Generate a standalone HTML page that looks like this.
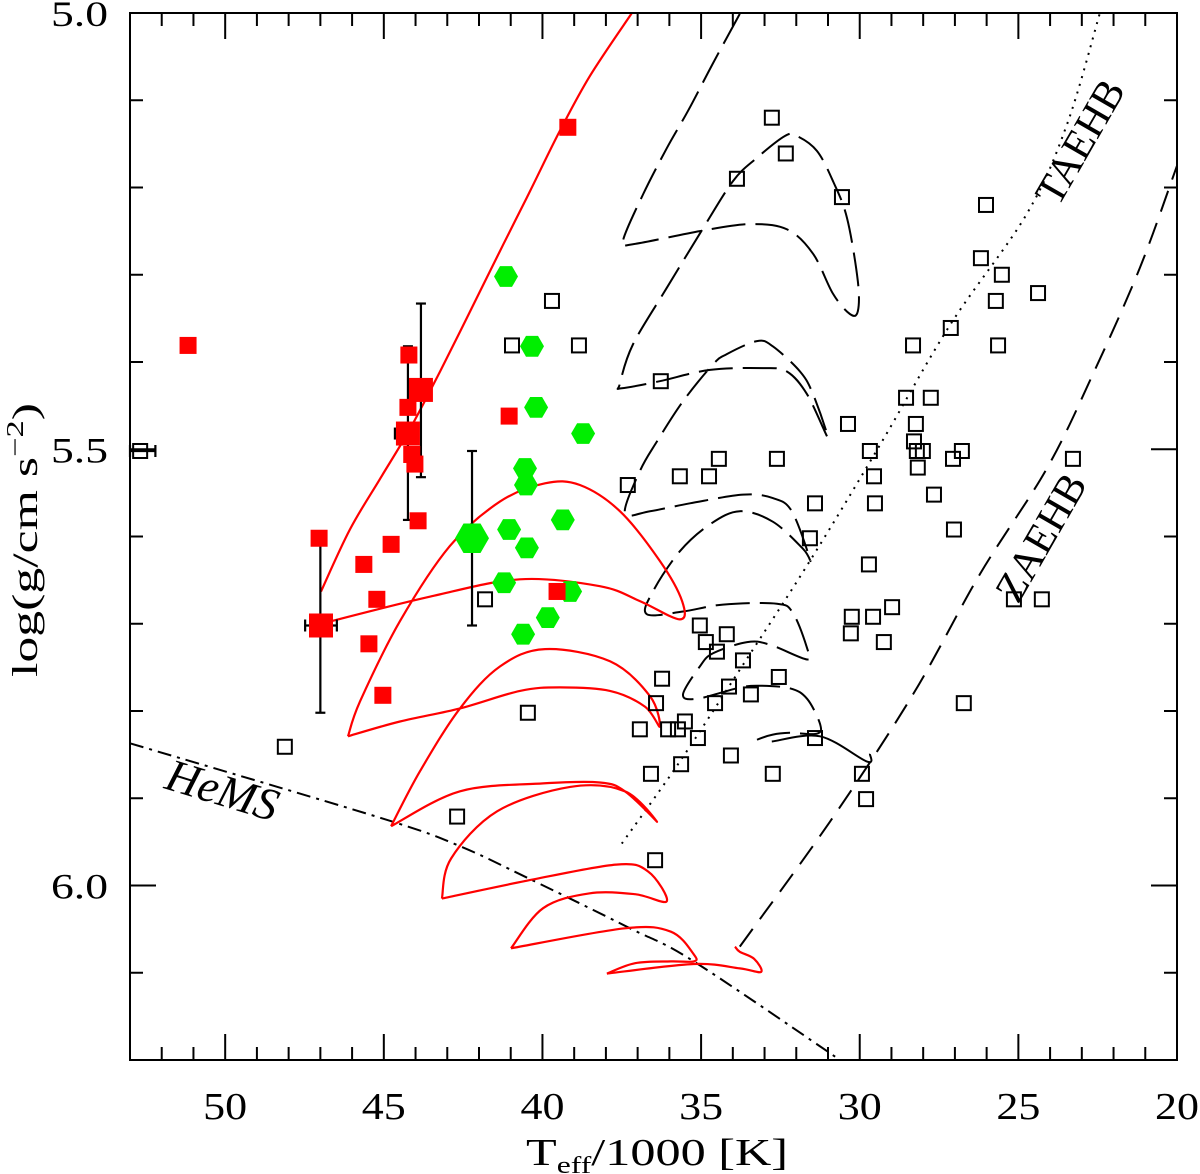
<!DOCTYPE html>
<html><head><meta charset="utf-8"><title>log g vs Teff diagram</title>
<style>
html,body{margin:0;padding:0;background:#fff;}
svg{display:block;}
text{font-family:"Liberation Serif",serif;fill:#000;}
</style></head>
<body>
<svg id="chart" width="1200" height="1174" viewBox="0 0 1200 1174" xmlns="http://www.w3.org/2000/svg">
<g id="tracks"></g>
<g id="marks"></g>
<g id="axes"></g>
</svg>
<script>
// ---- data (Teff/1000 [K], log g) ----
const xTickLabels = ["50","45","40","35","30","25","20"];
const xTickValues = [50,45,40,35,30,25,20];
const yTickLabels = ["5.0","5.5","6.0"];
const yTickValues = [5.0,5.5,6.0];

const openT = [32.77,32.33,33.87,30.56,26.02,26.18,25.52,24.38,25.71,39.70,27.13,40.96,38.85,28.32,25.64,36.27,28.54,27.76,30.37,28.23,28.29,29.68,28.20,28.01,26.78,23.28,34.44,32.61,27.06,28.17,35.67,34.75,29.55,37.31,27.66,31.41,29.52,27.03,31.57,29.71,41.81,30.25,29.58,28.98,25.14,24.26,35.04,30.28,34.85,34.19,29.24,34.50,33.68,36.23,32.55,34.12,33.43,34.56,36.42,26.72,40.46,35.51,36.93,36.04,35.73,35.10,31.41,48.12,34.06,35.63,36.58,32.74,29.93,29.80,42.69,36.45,52.68];
const openG = [5.120,5.161,5.190,5.211,5.220,5.281,5.300,5.321,5.330,5.330,5.361,5.381,5.381,5.381,5.381,5.422,5.441,5.441,5.471,5.471,5.491,5.502,5.502,5.502,5.502,5.511,5.511,5.511,5.511,5.521,5.531,5.531,5.531,5.541,5.552,5.562,5.562,5.592,5.602,5.632,5.672,5.692,5.692,5.681,5.672,5.672,5.702,5.711,5.721,5.712,5.721,5.732,5.742,5.763,5.761,5.772,5.781,5.791,5.791,5.791,5.802,5.812,5.821,5.821,5.821,5.831,5.831,5.841,5.851,5.861,5.872,5.872,5.872,5.901,5.921,5.971,5.502];

const redT = [39.20,51.17,44.21,43.83,44.24,41.05,44.24,44.02,44.12,43.92,47.04,44.77,45.63,45.22,39.54,46.98,45.47,45.03];
const redG = [5.131,5.381,5.392,5.432,5.452,5.462,5.482,5.517,5.506,5.582,5.602,5.609,5.632,5.672,5.663,5.702,5.723,5.782];
const redBig = [0,0,0,1,0,0,1,0,0,0,0,0,0,0,0,1,0,0];

const greenT = [41.15,40.33,40.20,38.72,40.55,40.52,39.36,41.05,42.22,40.49,41.21,39.13,39.83,40.61];
const greenG = [5.302,5.382,5.452,5.482,5.522,5.541,5.581,5.592,5.602,5.613,5.653,5.663,5.693,5.712];
const greenBig = [0,0,0,0,0,0,0,0,1,0,0,0,0,0];

const ebT = [43.83,44.24,42.22,47.0];
const ebLo = [5.333,5.382,5.502,5.602];
const ebHi = [5.532,5.581,5.702,5.802];
const hbG = [5.482,5.702,5.502];
const hbT1 = [44.65,47.48,53.0];
const hbT2 = [44.0,46.48,52.2];

const redDiagT = [46.98,46.07,45.12,44.18,43.23,42.28,41.34,40.39,39.45,38.50,37.18];
const redDiagG = [5.663,5.592,5.534,5.477,5.411,5.342,5.273,5.204,5.135,5.072,5.0];

// red loop segments (each smoothed separately)
const redSeg1T = [46.98,43.55,40.71,38.19,36.93,35.67, 35.60,36.30,37.56,38.82,39.92,41.34,42.92,44.49,45.75,46.13];
const redSeg1G = [5.700,5.669,5.649,5.657,5.674,5.695, 5.674,5.628,5.571,5.541,5.539,5.560,5.611,5.697,5.789,5.829];
const redSeg2T = [46.13,44.49,42.60,40.71,39.45,37.87,36.77,36.30, 36.61,37.87,39.92,41.34,42.60,43.86,44.77];
const redSeg2G = [5.829,5.812,5.797,5.777,5.773,5.777,5.795,5.818, 5.783,5.743,5.729,5.749,5.797,5.869,5.932];
const redSeg3T = [44.77,42.60,39.98,38.19,37.40,36.39, 37.40,39.13,41.43,42.88,43.17];
const redSeg3G = [5.932,5.892,5.883,5.882,5.892,5.927, 5.892,5.887,5.915,5.969,6.015];
const redSeg4T = [43.17,40.55,37.68,36.67,36.08, 37.08,38.53,39.98,40.99];
const redSeg4G = [6.015,5.995,5.976,5.984,6.018, 6.010,6.009,6.026,6.072];
const redSeg5T = [40.99,37.40,35.95,35.23,35.23, 35.95,37.08,37.97];
const redSeg5G = [6.072,6.049,6.053,6.079,6.087, 6.087,6.089,6.101];
const redSeg6T = [37.97,35.23,33.78,33.11,33.33,33.78,33.93];
const redSeg6G = [6.101,6.090,6.095,6.099,6.084,6.076,6.070];

const dashT = [33.78,34.63,35.41,36.08,36.83,37.46, 37.15,35.04,33.46,32.29,31.47,30.84,30.31, 30.06,30.06,30.40,30.84,31.35,31.98,32.36,33.24,34.00,35.04,36.08,37.15,37.56,
 37.50,36.30,34.72,33.05,32.29,31.66,31.00, 31.47,31.88,32.74,33.24,34.19,34.63,35.57,36.39,36.93,37.40,
 36.61,35.35,33.68,32.74,32.14,31.57, 31.79,32.74,33.78,34.72,35.67,36.52,36.71,
 35.57,34.31,32.61,32.10,31.66, 31.66,32.83,33.55,34.63,35.04,35.57,
 35.13,33.87,33.24,32.20,31.66,31.25, 31.35,32.20,32.74,33.24,33.46];
const dashG = [5.001,5.058,5.112,5.155,5.208,5.261, 5.265,5.250,5.242,5.248,5.276,5.322,5.345, 5.342,5.307,5.235,5.193,5.158,5.141,5.141,5.166,5.193,5.253,5.315,5.380,5.425,
 5.430,5.422,5.409,5.407,5.411,5.437,5.487, 5.437,5.411,5.382,5.376,5.391,5.403,5.445,5.491,5.525,5.573,
 5.571,5.562,5.552,5.556,5.571,5.626, 5.614,5.583,5.571,5.586,5.617,5.663,5.689,
 5.686,5.678,5.677,5.688,5.728, 5.741,5.724,5.721,5.734,5.749,5.781,
 5.786,5.774,5.771,5.774,5.786,5.815, 5.826,5.825,5.827,5.833,5.838];
const solidEndT = [32.77,31.25,29.77,29.68];
const solidEndG = [5.835,5.829,5.858,5.849];

const taehbT = [37.50,35.67,33.68,31.57,29.36,27.16,24.73,23.47,22.43];
const taehbG = [5.952,5.858,5.747,5.628,5.495,5.358,5.230,5.128,5.0];
const zaehbT = [33.78,30.94,28.32,26.21,24.10,22.65,21.17,20.0];
const zaehbG = [6.070,5.927,5.781,5.643,5.522,5.414,5.292,5.175];
const hemsT = [53.0,45.06,42.60,40.43,37.24,35.23,30.62];
const hemsG = [5.837,5.923,5.955,5.992,6.049,6.087,6.2];

// ---- scales ----
const X0=130, X1=1177, Y0=13, Y1=1060;
const TMAX=53, TMIN=20, GMIN=5.0, GMAX=6.2;
const xS = t => X0 + (TMAX - t) * (X1 - X0) / (TMAX - TMIN);
const yS = g => Y0 + (g - GMIN) * (Y1 - Y0) / (GMAX - GMIN);
const NS = "http://www.w3.org/2000/svg";
function mk(tag, attrs, parent){
  const e = document.createElementNS(NS, tag);
  for (const k in attrs) e.setAttribute(k, attrs[k]);
  parent.appendChild(e); return e;
}
function ptsOf(T, G){ return T.map((t,i)=>xS(t).toFixed(1)+","+yS(G[i]).toFixed(1)).join(" "); }
function smooth(T, G){
  const P = T.map((t,i)=>[xS(t), yS(G[i])]);
  let d = "M"+P[0][0].toFixed(1)+","+P[0][1].toFixed(1);
  for (let i=0;i<P.length-1;i++){
    const p0=P[Math.max(0,i-1)], p1=P[i], p2=P[i+1], p3=P[Math.min(P.length-1,i+2)];
    const c1=[p1[0]+(p2[0]-p0[0])/6, p1[1]+(p2[1]-p0[1])/6];
    const c2=[p2[0]-(p3[0]-p1[0])/6, p2[1]-(p3[1]-p1[1])/6];
    d += " C"+c1[0].toFixed(1)+","+c1[1].toFixed(1)+" "+c2[0].toFixed(1)+","+c2[1].toFixed(1)+" "+p2[0].toFixed(1)+","+p2[1].toFixed(1);
  }
  return d;
}

const tracks = document.getElementById("tracks");
const marks = document.getElementById("marks");
const axes = document.getElementById("axes");

let e;
e = mk("path",{d:smooth(hemsT,hemsG),fill:"none",stroke:"#000","stroke-width":2,"stroke-dasharray":"14,6,3,6"},tracks);


e = mk("path",{d:smooth(taehbT,taehbG),fill:"none",stroke:"#000","stroke-width":2,"stroke-dasharray":"2,6"},tracks);


e = mk("path",{d:smooth(zaehbT,zaehbG),fill:"none",stroke:"#000","stroke-width":2,"stroke-dasharray":"22,12"},tracks);


e = mk("path",{d:smooth(dashT,dashG),fill:"none",stroke:"#000","stroke-width":2,"stroke-dasharray":"34,10","stroke-linejoin":"round"},tracks);


e = mk("path",{d:smooth(solidEndT,solidEndG),fill:"none",stroke:"#000","stroke-width":2},tracks);


e = mk("path",{d:smooth(redDiagT,redDiagG),fill:"none",stroke:"#f00","stroke-width":2.2},tracks);


const redSegsT=[redSeg1T,redSeg2T,redSeg3T,redSeg4T,redSeg5T,redSeg6T];
const redSegsG=[redSeg1G,redSeg2G,redSeg3G,redSeg4G,redSeg5G,redSeg6G];
for (let i=0;i<redSegsT.length;i++){
  e = mk("path",{d:smooth(redSegsT[i],redSegsG[i]),fill:"none",stroke:"#f00","stroke-width":2.2,"stroke-linejoin":"round"},tracks);
  
  
}

for (let i=0;i<ebT.length;i++){
  const x=xS(ebT[i]), ya=yS(ebLo[i]), yb=yS(ebHi[i]);
  const g=mk("g",{stroke:"#000","stroke-width":2.2},marks);
  
  
  mk("line",{x1:x,y1:ya,x2:x,y2:yb},g);
  mk("line",{x1:x-5,y1:ya,x2:x+5,y2:ya},g);
  mk("line",{x1:x-5,y1:yb,x2:x+5,y2:yb},g);
}
for (let i=0;i<hbG.length;i++){
  const y=yS(hbG[i]), xa=xS(hbT1[i]), xb=xS(hbT2[i]);
  const g=mk("g",{stroke:"#000","stroke-width":2.2},marks);
  
  
  mk("line",{x1:xa,y1:y,x2:xb,y2:y},g);
  mk("line",{x1:xa,y1:y-6,x2:xa,y2:y+6},g);
  mk("line",{x1:xb,y1:y-6,x2:xb,y2:y+6},g);
}

for (let i=0;i<openT.length;i++){
  const x=xS(openT[i]), y=yS(openG[i]);
  e = mk("rect",{x:x-7,y:y-7,width:14,height:14,fill:"none",stroke:"#000","stroke-width":2},marks);
  
  
}
for (let i=0;i<greenT.length;i++){
  const x=xS(greenT[i]), y=yS(greenG[i]), r=greenBig[i]?17:12;
  const p=[];
  for (let k=0;k<6;k++){ const a=Math.PI/3*k; p.push((x+r*Math.cos(a)).toFixed(1)+","+(y+r*Math.sin(a)).toFixed(1)); }
  e = mk("polygon",{points:p.join(" "),fill:"#00ee00"},marks);
  
  
}
for (let i=0;i<redT.length;i++){
  const x=xS(redT[i]), y=yS(redG[i]), s=redBig[i]?24:17;
  e = mk("rect",{x:x-s/2,y:y-s/2,width:s,height:s,fill:"#f00"},marks);
  
  
}

e = mk("rect",{x:X0,y:Y0,width:X1-X0,height:Y1-Y0,fill:"none",stroke:"#000","stroke-width":2},axes);


for (let t=20;t<=53;t++){
  const x=xS(t), L=(t%5===0)?26:13;
  mk("line",{x1:x,y1:Y1,x2:x,y2:Y1-L,stroke:"#000","stroke-width":2},axes);
  mk("line",{x1:x,y1:Y0,x2:x,y2:Y0+L,stroke:"#000","stroke-width":2},axes);
}
for (let i=0;i<xTickValues.length;i++){
  e = mk("text",{x:xS(xTickValues[i]),y:1119,"text-anchor":"middle","font-size":38,textLength:44,lengthAdjust:"spacingAndGlyphs"},axes);
  e.textContent=xTickLabels[i];
  
  
}
for (let k=0;k<=12;k++){
  const g=5.0+k*0.1, y=yS(g), L=(k%5===0)?26:13;
  mk("line",{x1:X0,y1:y,x2:X0+L,y2:y,stroke:"#000","stroke-width":2},axes);
  mk("line",{x1:X1,y1:y,x2:X1-L,y2:y,stroke:"#000","stroke-width":2},axes);
}
for (let i=0;i<yTickValues.length;i++){
  e = mk("text",{x:108,y:yS(yTickValues[i])+13,"text-anchor":"end","font-size":36,textLength:57,lengthAdjust:"spacingAndGlyphs"},axes);
  e.textContent=yTickLabels[i];
  
  
}
</script>
<script>
(function(){
  const svg=document.getElementById("chart");
  const NS="http://www.w3.org/2000/svg";
  function t(attrs, html, name){
    const e=document.createElementNS(NS,"text");
    for(const k in attrs) e.setAttribute(k,attrs[k]);
    e.innerHTML=html;
    
    
    svg.appendChild(e);
  }
  t({x:526,y:1165,"font-size":38,textLength:262,lengthAdjust:"spacingAndGlyphs"},'T<tspan font-size="24" dy="8">eff</tspan><tspan dy="-8">/1000 [K]</tspan>','x-axis-title');
  t({x:0,y:0,"font-size":36,transform:"translate(37,677) rotate(-90)",textLength:274,lengthAdjust:"spacingAndGlyphs"},'log(g/cm s<tspan font-size="24" dy="-14">−2</tspan><tspan dy="14">)</tspan>','y-axis-title');
  t({x:0,y:0,"font-size":46,"font-style":"italic",transform:"translate(163,788) rotate(17)"},'HeMS','hems-label');
  t({x:0,y:0,"font-size":42,transform:"translate(1058,208) rotate(-60)"},'TAEHB','taehb-label');
  t({x:0,y:0,"font-size":42,transform:"translate(1018,605) rotate(-60)"},'ZAEHB','zaehb-label');
})();
</script>
</body></html>
